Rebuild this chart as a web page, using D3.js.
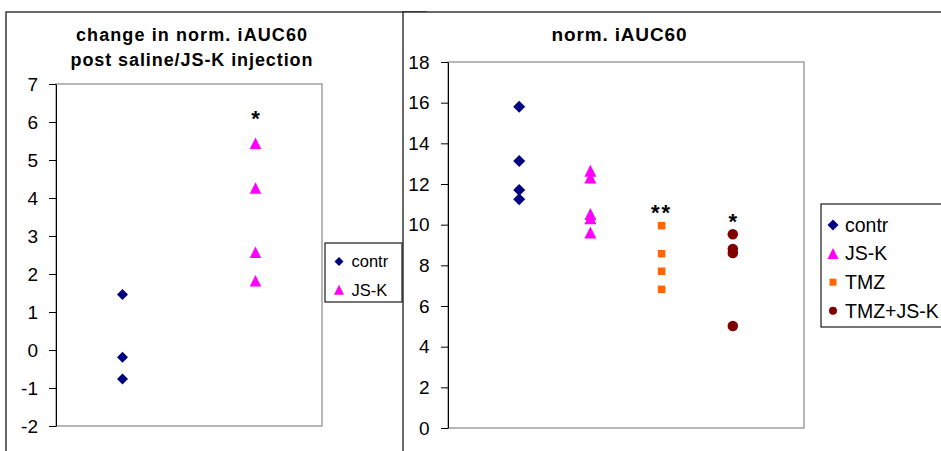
<!DOCTYPE html>
<html>
<head>
<meta charset="utf-8">
<script src="https://cdn.jsdelivr.net/npm/d3@7"></script>
<style>
  body { margin: 0; background: #fff; }
  svg { display: block; font-family: "Liberation Sans", Arial, sans-serif; }
</style>
</head>
<body>
<svg id="chart" width="941" height="451"></svg>
<script>
// ---- data ----
const leftTitle = ["change in norm. iAUC60", "post saline/JS-K injection"];
const leftGroups = ["contr", "JS-K"];
const leftContr = [1.46, -0.19, -0.76];
const leftJSK = [5.44, 4.26, 2.57, 1.82];
const leftTicks = [-2, -1, 0, 1, 2, 3, 4, 5, 6, 7];
const leftStars = [{ x: 2, y: 6.21, label: "*" }];

const rightTitle = "norm. iAUC60";
const rightGroups = ["contr", "JS-K", "TMZ", "TMZ+JS-K"];
const rightContr = [15.80, 13.13, 11.71, 11.25];
const rightJSK = [12.65, 12.32, 10.52, 10.32, 9.62];
const rightTMZ = [9.95, 8.57, 7.71, 6.82];
const rightTMZJSK = [9.53, 8.80, 8.61, 5.02];
const rightTicks = [0, 2, 4, 6, 8, 10, 12, 14, 16, 18];
const rightStars = [{ x: 3, y: 10.84, label: "**" }, { x: 4, y: 10.39, label: "*" }];

const colors = { "contr": "#000080", "JS-K": "#ff00ff", "TMZ": "#ff6600", "TMZ+JS-K": "#800000" };
const shapes = { "contr": "diamond", "JS-K": "triangle", "TMZ": "square", "TMZ+JS-K": "circle" };

const svg = d3.select("#chart");

// marker paths, s = overall size in px
function markerPath(shape, s) {
    const h = s / 2;
    if (shape === "diamond") return `M0,${-h}L${h},0L0,${h}L${-h},0Z`;
    if (shape === "triangle") return `M0,${-h}L${h},${h}L${-h},${h}Z`;
    if (shape === "square") return `M${-h},${-h}H${h}V${h}H${-h}Z`;
    return d3.arc()({ innerRadius: 0, outerRadius: h, startAngle: 0, endAngle: 2 * Math.PI });
}

function drawPanel(p) {
    const x = d3.scaleLinear().domain(p.xDomain).range([p.box.x0, p.box.x1]);
    const y = d3.scaleLinear().domain(p.yDomain).range([p.box.y1, p.box.y0]);

    const g = svg.append("g");

    // outer chart frame
    g.append("rect")
        .attr("x", p.frame[0]).attr("y", p.frame[1])
        .attr("width", p.frame[2]).attr("height", p.frame[3])
        .attr("fill", "#fff").attr("stroke", "#1a1a1a").attr("stroke-width", 1.3);

    // titles
    p.title.forEach((t, i) => {
        g.append("text")
            .attr("x", p.titleX).attr("y", p.titleY + i * 25)
            .attr("text-anchor", "middle")
            .attr("font-size", p.titleSize).attr("font-weight", "bold")
            .attr("textLength", p.titleLen[i]).attr("lengthAdjust", "spacing")
            .text(t);
    });

    // plot area border (gray)
    g.append("rect")
        .attr("x", p.box.x0).attr("y", p.box.y0)
        .attr("width", p.box.x1 - p.box.x0).attr("height", p.box.y1 - p.box.y0)
        .attr("fill", "none").attr("stroke", "#999").attr("stroke-width", 1.4);

    // value axis (plain hyphen for negatives, like the original)
    const axis = g.append("g")
        .attr("transform", `translate(${p.box.x0},0)`)
        .call(d3.axisLeft(y).tickValues(p.ticks).tickFormat(d => String(d))
            .tickSize(7).tickPadding(p.tickPad).tickSizeOuter(0));
    axis.select(".domain").attr("stroke", "#000");
    axis.selectAll(".tick line").attr("stroke", "#000");
    axis.selectAll(".tick text")
        .attr("font-size", 19).attr("font-family", "Liberation Sans, Arial, sans-serif").attr("fill", "#000");

    // points
    p.series.forEach((s, i) => {
        g.append("g").selectAll("path")
            .data(s.values)
            .join("path")
            .attr("transform", d => `translate(${x(i + 1)},${y(d)})`)
            .attr("d", markerPath(shapes[s.name], p.markerSize[shapes[s.name]]))
            .attr("fill", colors[s.name]);
    });

    // significance stars
    g.selectAll("text.star")
        .data(p.stars)
        .join("text")
        .attr("class", "star")
        .attr("x", d => x(d.x)).attr("y", d => y(d.y) + 12)
        .attr("text-anchor", "middle")
        .attr("font-size", 22).attr("font-weight", "bold")
        .attr("letter-spacing", d => d.label.length > 1 ? 2 : 0)
        .text(d => d.label);

    // legend
    const lg = p.legend;
    g.append("rect")
        .attr("x", lg.x).attr("y", lg.y).attr("width", lg.w).attr("height", lg.h)
        .attr("fill", "#fff").attr("stroke", "#1a1a1a").attr("stroke-width", 1.2);
    const items = g.append("g").selectAll("g")
        .data(p.series.map(s => s.name))
        .join("g")
        .attr("transform", (d, i) => `translate(${lg.x},${lg.y + lg.first + i * lg.step})`);
    items.append("path")
        .attr("transform", `translate(${lg.mx},0)`)
        .attr("d", d => markerPath(shapes[d], lg.markerSize[shapes[d]]))
        .attr("fill", d => colors[d]);
    items.append("text")
        .attr("x", lg.tx).attr("dy", "0.35em")
        .attr("font-size", lg.fontSize)
        .text(d => d);
}

drawPanel({
    frame: [6, 12, 420, 460],
    title: leftTitle, titleX: 191.5, titleY: 41, titleSize: 18, titleLen: [231, 242],
    box: { x0: 56, x1: 322, y0: 84, y1: 426 },
    xDomain: [0.5, 2.5], yDomain: [-2, 7], ticks: leftTicks, tickPad: 11,
    series: [{ name: leftGroups[0], values: leftContr }, { name: leftGroups[1], values: leftJSK }],
    markerSize: { diamond: 11, triangle: 11.5 },
    stars: leftStars,
    legend: { x: 325, y: 243, w: 77, h: 59, first: 18.5, step: 28.3, mx: 14, tx: 26.5, fontSize: 16.5,
              markerSize: { diamond: 9, triangle: 10 } }
});

drawPanel({
    frame: [403, 12, 600, 460],
    title: [rightTitle], titleX: 619, titleY: 41, titleSize: 19, titleLen: [135],
    box: { x0: 448, x1: 804, y0: 62, y1: 428 },
    xDomain: [0, 5], yDomain: [0, 18], ticks: rightTicks, tickPad: 11.5,
    series: [
        { name: rightGroups[0], values: rightContr },
        { name: rightGroups[1], values: rightJSK },
        { name: rightGroups[2], values: rightTMZ },
        { name: rightGroups[3], values: rightTMZJSK }
    ],
    markerSize: { diamond: 12, triangle: 12, square: 7.5, circle: 10.5 },
    stars: rightStars,
    legend: { x: 821, y: 204, w: 160, h: 123, first: 21, step: 28.6, mx: 12, tx: 24, fontSize: 19.5,
              markerSize: { diamond: 11, triangle: 11, square: 7, circle: 8 } }
});
</script>
</body>
</html>
